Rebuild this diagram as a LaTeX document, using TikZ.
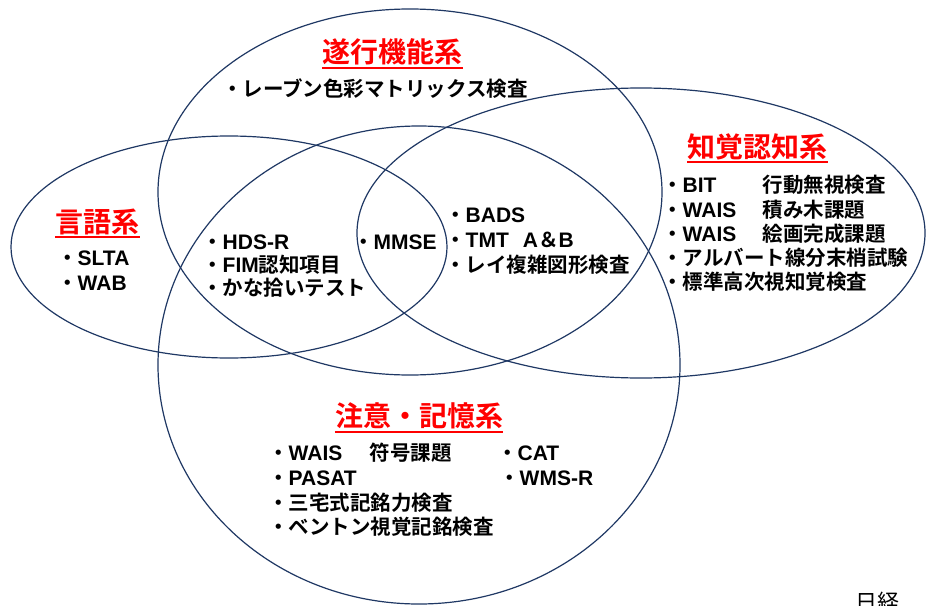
\documentclass[tikz,border=0pt]{standalone}
\usepackage{fontspec}
\setmainfont{Noto Sans CJK JP}[BoldFont={Noto Sans CJK JP Bold}]
\newfontfamily\latf{Liberation Sans}[BoldFont={Liberation Sans Bold}]
\newcommand\lt[1]{{\latf\fontsize{21}{24}\selectfont #1}}
\definecolor{ringcol}{RGB}{31,56,100}
\definecolor{ttlcol}{RGB}{255,0,0}
\begin{document}
\begin{tikzpicture}[x=1pt,y=-1pt,
  venn/.style={draw=ringcol, line width=1.2pt},
  ttl/.style={inner sep=0pt, text=ttlcol, font=\bfseries\fontsize{28}{32}\selectfont},
  item/.style={inner sep=0pt, anchor=west, font=\bfseries\fontsize{20.5}{24}\selectfont},
  uline/.style={draw=ttlcol, line width=2pt}]
\useasboundingbox[fill=white] (0,0) rectangle (926,605);
% ellipses
\draw[venn] (410,192) ellipse [x radius=252pt, y radius=183pt];
\draw[venn] (229,247) ellipse [x radius=218pt, y radius=111pt];
\draw[venn] (641,233) ellipse [x radius=284pt, y radius=145pt];
\draw[venn] (419,365) ellipse [x radius=261pt, y radius=239pt];
% titles
\node[ttl] (t1) at (392.5,52) {遂行機能系};
\node[ttl] (t2) at (97.5,221.5) {言語系};
\node[ttl] (t3) at (757.5,146.5) {知覚認知系};
\node[ttl] (t4) at (419,416) {注意・記憶系};
\foreach \t in {t1,t2,t3,t4}
  \draw[uline] ([yshift=-2.5pt]\t.south west) -- ([yshift=-2.5pt]\t.south east);
% items
\node[item] (r1) at (222,89) {・レーブン色彩マトリックス検査};
\node[item] (l1) at (57,258) {・\lt{SLTA}};
\node[item] (l2) at (57,283) {・\lt{WAB}};
\node[item] (c1) at (202,242) {・\lt{HDS-R}};
\node[item] (c2) at (202,265) {・\lt{FIM}認知項目};
\node[item] (c3) at (202,288) {・かな拾いテスト};
\node[item] (m1) at (353,242) {・\lt{MMSE}};
\node[item] (b1) at (445,215) {・\lt{BADS}};
\node[item] (b2) at (445,240) {・\lt{TMT}\hspace{14pt}\lt{A}＆\lt{B}};
\node[item] (b3) at (445,265) {・レイ複雑図形検査};
\node[item] (p1) at (662,185) {・\makebox[80pt][l]{\lt{BIT}}行動無視検査};
\node[item] (p2) at (662,209.3) {・\makebox[80pt][l]{\lt{WAIS}}積み木課題};
\node[item] (p3) at (662,233.6) {・\makebox[80pt][l]{\lt{WAIS}}絵画完成課題};
\node[item] (p4) at (662,257.9) {・アルバート線分末梢試験};
\node[item] (p5) at (662,282.2) {・標準高次視知覚検査};
\node[item] (a1) at (268,453) {・\makebox[81pt][l]{\lt{WAIS}}符号課題};
\node[item] (a2) at (268,478) {・\lt{PASAT}};
\node[item] (a3) at (268,503) {・三宅式記銘力検査};
\node[item] (a4) at (268,527) {・ベントン視覚記銘検査};
\node[item] (a5) at (497,453) {・\lt{CAT}};
\node[item] (a6) at (499,478) {・\lt{WMS-R}};
% cut-off text at bottom right
\begin{scope}
  \clip (0,0) rectangle (926,605);
  \node[anchor=north west, inner sep=0pt, font=\fontsize{22}{24}\selectfont] (wm) at (855,592) {日経};
\end{scope}
\end{tikzpicture}
\end{document}
